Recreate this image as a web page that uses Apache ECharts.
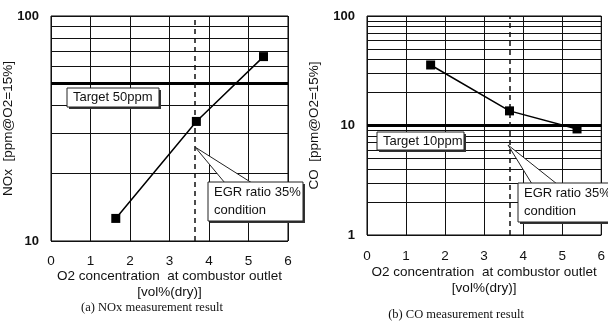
<!DOCTYPE html>
<html><head><meta charset="utf-8">
<script src="https://cdn.jsdelivr.net/npm/echarts@6/dist/echarts.min.js"></script>
<style>html,body{margin:0;padding:0;background:#fff}#c{width:608px;height:327px}</style>
</head><body><div id="c"></div>
<script>
// ---- data ----
const xTickLabels = ['0','1','2','3','4','5','6'];
const noxO2 = [1.64, 3.68, 5.38];
const noxValues = [12.6, 34, 66];
const coO2 = [1.63, 3.65, 5.38];
const coValues = [35.7, 13.6, 9.3];
const noxTarget = 50;
const coTarget = 10;
const egrO2 = 3.65;
const noxMinorGrid = [20, 30, 40, 60, 70, 80, 90];
const coMinorGrid = [2, 3, 4, 5, 6, 7, 8, 9, 20, 30, 40, 50, 60, 70, 80, 90];
const xName = 'O2 concentration  at combustor outlet\n[vol%(dry)]';
const noxYName = 'NOx  [ppm@O2=15%]';
const coYName = 'CO  [ppm@O2=15%]';
const captions = ['(a) NOx measurement result', '(b) CO measurement result'];
const targetLabels = ['Target 50ppm', 'Target 10ppm'];
const egrLabel = 'EGR ratio 35%\ncondition';

const FONT = 'Liberation Sans, Arial, sans-serif';
const chart = echarts.init(document.getElementById('c'), null, {renderer: 'canvas'});

function xAxisDef(gi, margin, gap) {
  return {
    type: 'value', gridIndex: gi, min: 0, max: 6, interval: 1,
    axisLine: {show: false}, axisTick: {show: false},
    axisLabel: {color: '#111', fontFamily: FONT, fontSize: 13.5, margin: margin,
      formatter: v => xTickLabels[Math.round(v)]},
    splitLine: {show: true, lineStyle: {color: '#111', width: 1}},
    name: xName, nameLocation: 'middle', nameGap: gap, nameMoveOverlap: false,
    nameTextStyle: {color: '#111', fontFamily: FONT, fontSize: 13.5, lineHeight: 16}
  };
}
function yAxisDef(gi, min, name, gap) {
  return {
    type: 'log', logBase: 10, gridIndex: gi, min: min, max: 100, interval: 1,
    axisLine: {show: false}, axisTick: {show: false},
    axisLabel: {color: '#111', fontFamily: FONT, fontSize: 13, fontWeight: 'bold', margin: 12},
    splitLine: {show: true, lineStyle: {color: '#111', width: 1}},
    name: name, nameLocation: 'middle', nameGap: gap, nameRotate: 90, nameMoveOverlap: false,
    nameTextStyle: {color: '#111', fontFamily: FONT, fontSize: 13.5}
  };
}
function markLines(minor, target) {
  const d = minor.map(v => ({yAxis: v, lineStyle: {width: 1, color: '#111', type: 'solid'}}));
  d.push({yAxis: target, lineStyle: {width: 3, color: '#000', type: 'solid'}});
  d.push({xAxis: egrO2, lineStyle: {width: 1.5, color: '#111', type: [5, 4]}});
  return {silent: true, symbol: ['none', 'none'], label: {show: false}, data: d, animation: false};
}
function series(gi, xs, ys, minor, target) {
  return {
    type: 'line', xAxisIndex: gi, yAxisIndex: gi,
    data: xs.map((x, i) => [x, ys[i]]),
    symbol: 'rect', symbolSize: 9,
    itemStyle: {color: '#000'}, lineStyle: {color: '#000', width: 1.5},
    markLine: markLines(minor, target), z: 5, animation: false
  };
}
function box(x, y, w, h, text, fs, lh) {
  return [
    {type: 'rect', shape: {x: x + 2, y: y + 2, width: w, height: h}, style: {fill: '#333'}, z: 100},
    {type: 'rect', shape: {x: x, y: y, width: w, height: h}, style: {fill: '#fff', stroke: '#222', lineWidth: 1}, z: 101},
    {type: 'text', x: x + 6, y: y + h / 2, style: {text: text, fill: '#111', font: fs + 'px ' + FONT, lineHeight: lh, verticalAlign: 'middle', align: 'left'}, z: 102}
  ];
}
function callout(ax, ay, x1, x2, y) {
  return {type: 'polygon', shape: {points: [[ax, ay], [x1, y], [x2, y]]},
    style: {fill: '#fff', stroke: '#222', lineWidth: 1}, z: 99};
}

const graphics = [].concat(
  [callout(195, 147, 225, 252, 183), callout(508, 145, 532, 557, 184)],
  box(67, 88, 92, 19, targetLabels[0], 13, 14),
  box(377, 132, 87, 18, targetLabels[1], 13, 14),
  box(208, 182, 95, 39, egrLabel, 13, 18),
  box(518, 183, 92, 39, egrLabel, 13, 18),
  [
    {type: 'text', x: 152, y: 308, style: {text: captions[0], fill: '#111', font: '12.5px Liberation Serif, serif', align: 'center', verticalAlign: 'middle'}},
    {type: 'text', x: 456, y: 315, style: {text: captions[1], fill: '#111', font: '12.5px Liberation Serif, serif', align: 'center', verticalAlign: 'middle'}}
  ]
);

chart.setOption({
  animation: false,
  backgroundColor: '#fff',
  grid: [
    {left: 51, top: 16, width: 237, height: 225, show: true, borderColor: '#000', borderWidth: 1, backgroundColor: '#fff'},
    {left: 367, top: 16, width: 235, height: 219, show: true, borderColor: '#000', borderWidth: 1, backgroundColor: '#fff'}
  ],
  xAxis: [xAxisDef(0, 13, 27), xAxisDef(1, 14, 29)],
  yAxis: [yAxisDef(0, 10, noxYName, 36), yAxisDef(1, 1, coYName, 46)],
  series: [
    series(0, noxO2, noxValues, noxMinorGrid, noxTarget),
    series(1, coO2, coValues, coMinorGrid, coTarget)
  ],
  graphic: graphics
});
</script></body></html>
